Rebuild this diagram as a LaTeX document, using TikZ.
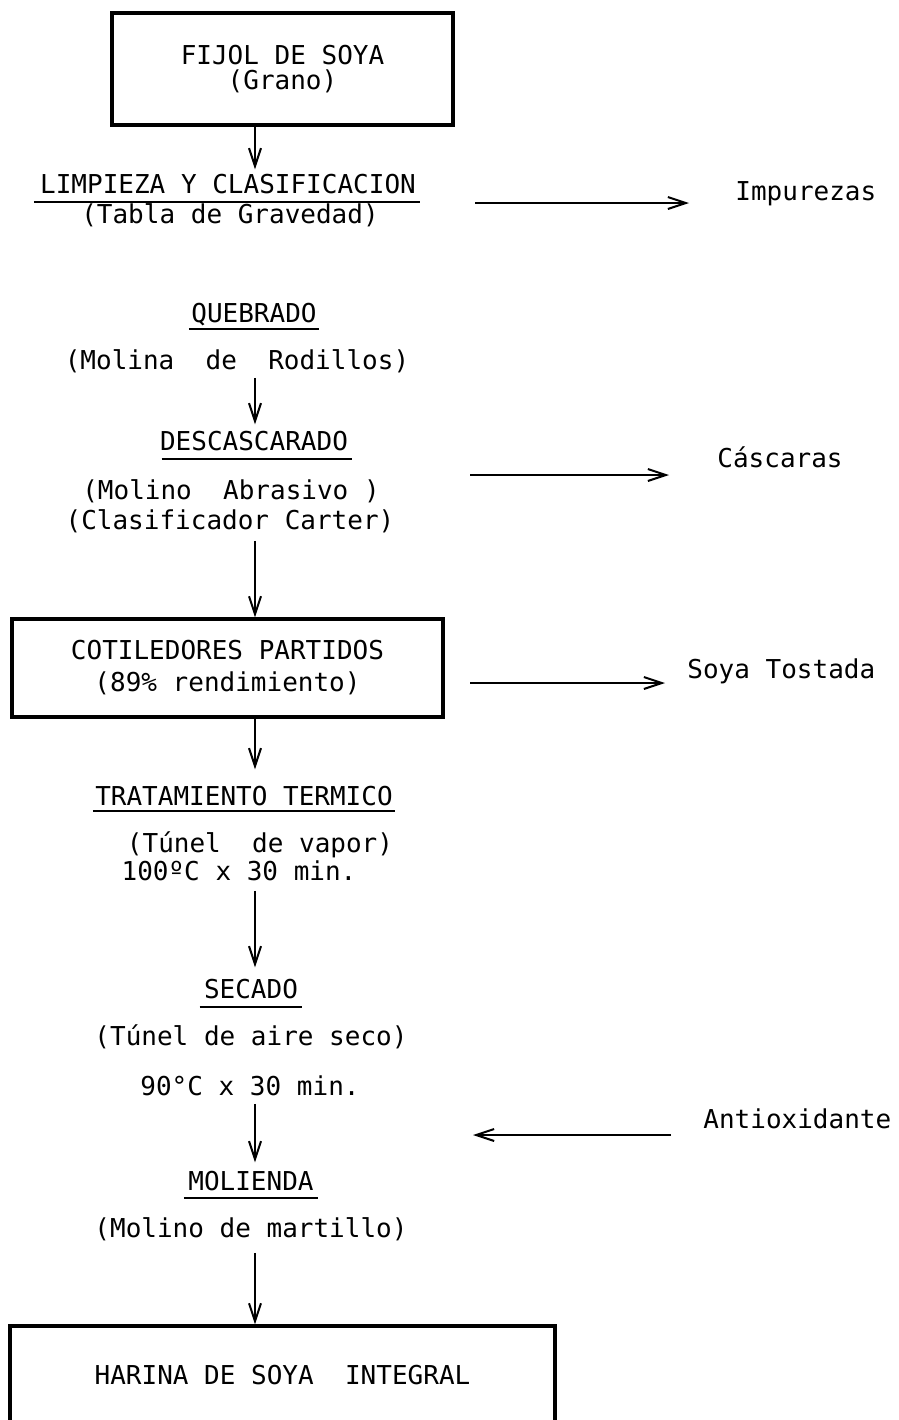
\documentclass[tikz,border=0pt]{standalone}
\usepackage{fontspec}
\setmainfont{DejaVu Sans Mono}
\usetikzlibrary{arrows.meta}

\begin{document}
\begin{tikzpicture}[x=0.5pt,y=-0.5pt,
    font=\fontsize{13pt}{15pt}\selectfont,
    flow/.style={line width=1pt,-{Straight Barb[length=9pt,width=6pt]}},
    stage/.style={draw,line width=1.6pt,inner sep=0pt,align=center},
    txt/.style={inner sep=0pt,anchor=base},
    outlet/.style={inner sep=0pt,anchor=base west},
    uline/.style={line width=1pt}]
    % page
    \useasboundingbox (0,0) rectangle (899,1420);
    \clip (0,0) rectangle (899,1420);
    \coordinate (col) at (255,0);

    % Raw material
    \node[stage,minimum width=170.5pt,minimum height=56pt,
          font=\fontsize{13pt}{12.5pt}\selectfont] (grano) at (282.5,69) {FIJOL DE SOYA\\(Grano)};

    % Cleaning
    \node[txt] (limp) at (228,193) {LIMPIEZA Y CLASIFICACION};
    \node[txt] (tabla) at (230,223) {(Tabla de Gravedad)};
    \draw[uline] ([xshift=-3pt,yshift=-4.5pt]limp.base west) -- ([xshift=2pt,yshift=-4.5pt]limp.base east);
    \draw[flow,shorten >=2pt] (grano.south -| col) -- (limp.north -| col);

    \coordinate (imp-s) at (475,203);
    \node[outlet] (imp) at (735,200) {Impurezas};
    \draw[flow,shorten >=23pt] (imp-s) -- (imp-s -| imp.west);

    % Breaking
    \node[txt] (queb) at (254,322) {QUEBRADO};
    \node[txt] (rodi) at (237,369) {(Molina\ \ de\ \ Rodillos)};
    \draw[uline] ([xshift=-1pt,yshift=-3.5pt]queb.base west) -- ([xshift=1pt,yshift=-3.5pt]queb.base east);

    % Dehulling
    \node[txt] (desc) at (254,450) {DESCASCARADO};
    \node[txt] (abra) at (231,499) {(Molino\ \ Abrasivo\ )};
    \node[txt] (cart) at (230,529) {(Clasificador Carter)};
    \draw[uline] ([xshift=1pt,yshift=-4.5pt]desc.base west) -- ([xshift=2pt,yshift=-4.5pt]desc.base east);
    \draw[flow,shorten <=2.5pt,shorten >=3pt] (rodi.south -| col) -- (desc.north -| col);

    \coordinate (casc-s) at (470,475);
    \node[outlet] (casc) at (717,467) {Cáscaras};
    \draw[flow,shorten >=24pt] (casc-s) -- (casc-s -| casc.west);

    % Split cotyledons
    \node[stage,minimum width=215.5pt,minimum height=49pt,
          font=\fontsize{13pt}{16pt}\selectfont] (cot) at (227.5,668) {COTILEDORES PARTIDOS\\(89\% rendimiento)};
    \draw[flow,shorten <=4pt] (cart.south -| col) -- (cot.north -| col);

    \coordinate (tost-s) at (470,683);
    \node[outlet] (tost) at (687,678) {Soya Tostada};
    \draw[flow,shorten >=11pt] (tost-s) -- (tost-s -| tost.west);

    % Heat treatment
    \node[txt] (trat) at (244,805) {TRATAMIENTO TERMICO};
    \node[txt] (vapor) at (260,852) {(Túnel\ \ de vapor)};
    \node[txt] (temp1) at (239,880) {100ºC x 30 min.};
    \draw[uline] ([xshift=-1pt,yshift=-3pt]trat.base west) -- ([xshift=1pt,yshift=-3pt]trat.base east);
    \draw[flow,shorten >=8pt] (cot.south -| col) -- (trat.north -| col);

    % Drying
    \node[txt] (sec) at (251,998) {SECADO};
    \node[txt] (aire) at (251,1045) {(Túnel de aire seco)};
    \node[txt] (temp2) at (250,1095) {90°C x 30 min.};
    \draw[uline] ([xshift=-2pt,yshift=-4.5pt]sec.base west) -- ([xshift=2pt,yshift=-4.5pt]sec.base east);
    \draw[flow,shorten <=5pt,shorten >=5.5pt] (temp1.south -| col) -- (sec.north -| col);

    % Milling
    \node[txt] (mol) at (251,1190) {MOLIENDA};
    \node[txt] (mart) at (251,1237) {(Molino de martillo)};
    \draw[uline] ([xshift=-2pt,yshift=-4pt]mol.base west) -- ([xshift=2pt,yshift=-4pt]mol.base east);
    \draw[flow,shorten <=4pt,shorten >=4pt] (temp2.south -| col) -- (mol.north -| col);

    \coordinate (anti-e) at (473,1135);
    \node[outlet] (anti) at (703,1128) {Antioxidante};
    \draw[flow,shorten <=16pt] (anti-e -| anti.west) -- (anti-e);

    % Product (box runs off the page)
    \node[stage,minimum width=272.5pt,minimum height=49pt] (harina) at (282.5,1375) {HARINA DE SOYA\ \ INTEGRAL};
    \draw[flow,shorten <=6pt] (mart.south -| col) -- (harina.north -| col);
\end{tikzpicture}
\end{document}
